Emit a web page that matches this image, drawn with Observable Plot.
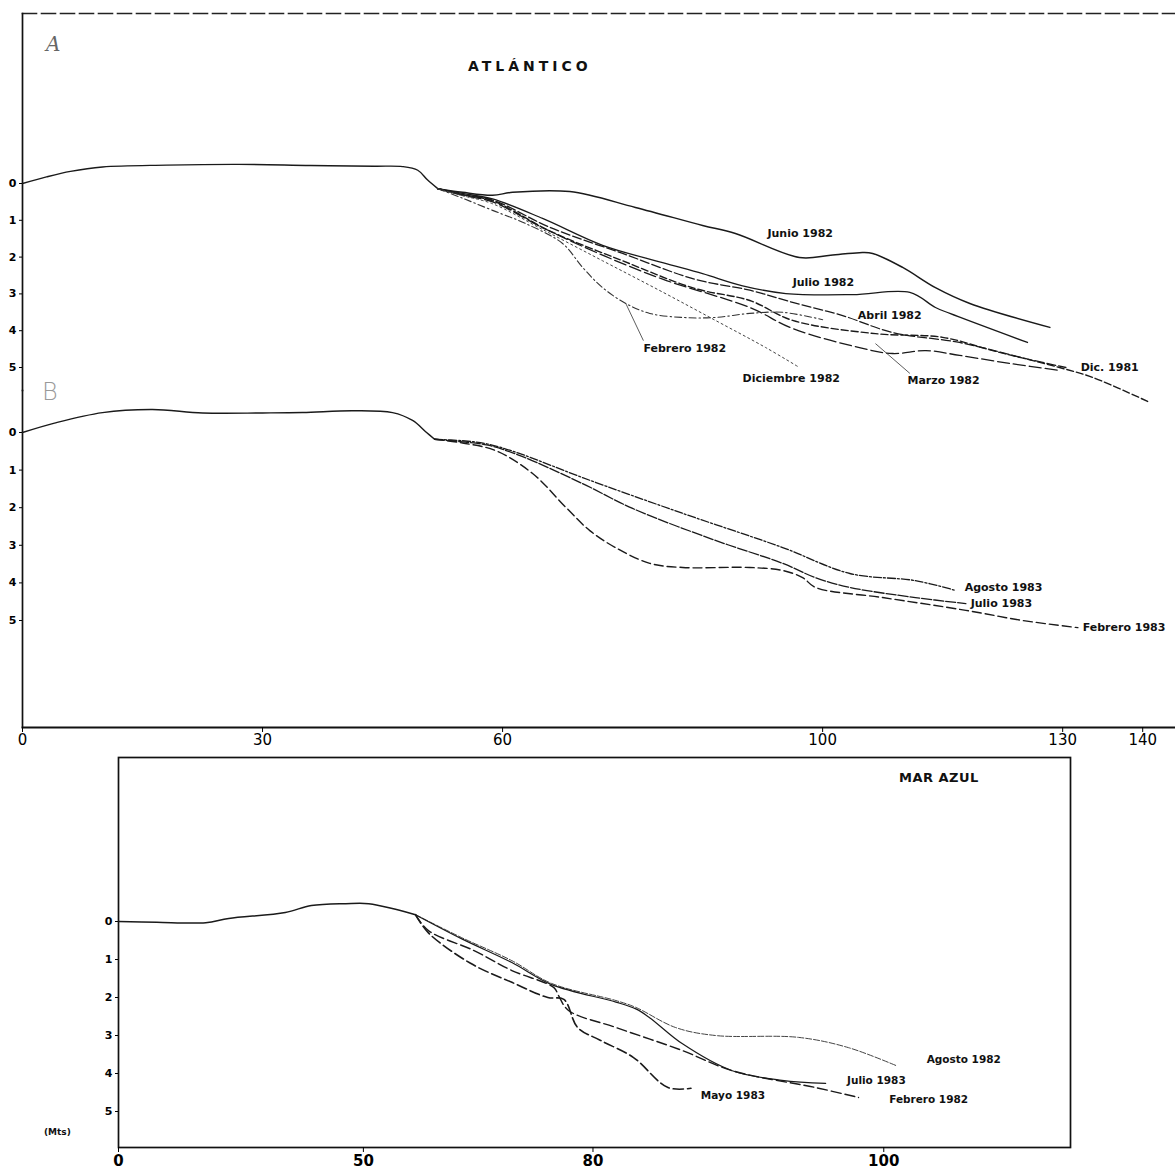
<!DOCTYPE html>
<html><head><meta charset="utf-8">
<script src="https://cdn.jsdelivr.net/npm/d3@7"></script>
<script src="https://cdn.jsdelivr.net/npm/@observablehq/plot@0.6"></script>
<style>
html,body{margin:0;padding:0;background:#fff;}
#wrap{position:relative;width:1175px;height:1175px;background:#fff;overflow:hidden;font-family:"DejaVu Sans",sans-serif;}
#wrap svg{position:absolute;left:0;overflow:visible;}
.note{position:absolute;color:#111;white-space:nowrap;line-height:1;}
</style></head><body><div id="wrap"></div>
<script>
// ================= DATA (distance m, depth m; negative = above datum) =================
const yTicks = [0, 1, 2, 3, 4, 5];
const xTicksTop = [0, 30, 60, 100, 130, 140];
const xTicksMar = [0, 32, 62, 100];
const xTickLabelsMar = ["0", "50", "80", "100"];

// ---- Panel A: ATLÁNTICO ----
const commonA = [[0,0],[3,-0.18],[6,-0.33],[10,-0.45],[18,-0.5],[27,-0.52],[36,-0.49],[44,-0.47],[47.5,-0.46],[49.4,-0.36],[50.6,-0.1],[51.9,0.14]];
const junio1982A = [[51.9,0.14],[55,0.24],[58.75,0.32],[61.25,0.24],[68.4,0.22],[76.6,0.65],[85,1.14],[89.1,1.36],[97.1,2.01],[101,1.95],[104.6,1.88],[106.25,1.9],[110,2.28],[114.1,2.83],[118.4,3.26],[128.4,3.91]];
const julio1982A = [[51.9,0.14],[55,0.27],[58.75,0.42],[65,0.95],[72.5,1.68],[80,2.15],[85,2.45],[90,2.78],[95.4,2.99],[103.75,3.02],[110.9,2.96],[114.1,3.37],[115.9,3.53],[125.6,4.32]];
const abril1982A = [[51.9,0.14],[55,0.3],[58.75,0.45],[66,1.2],[75,1.9],[84,2.6],[90.9,2.9],[96.25,3.23],[102.5,3.59],[108.75,4.05],[117.1,4.32],[125.4,4.76],[130.4,5.0]];
const dic1981A = [[51.9,0.14],[55,0.3],[58.75,0.47],[66,1.3],[75,2.1],[84,2.85],[90.9,3.18],[96.25,3.72],[106.6,4.08],[115,4.18],[121.25,4.54],[129.6,5.0],[133.75,5.27],[140.9,5.95]];
const marzo1982A = [[51.9,0.14],[55,0.32],[58.75,0.5],[65,1.2],[72,1.9],[80,2.6],[90.9,3.37],[96.25,3.94],[104.6,4.46],[108.75,4.62],[112.9,4.54],[117.1,4.67],[123.4,4.89],[129.6,5.08]];
const diciembre1982A = [[51.9,0.14],[55,0.33],[58.75,0.55],[65,1.25],[72.5,2.1],[80,2.95],[86.6,3.72],[92.9,4.46],[97.1,5.0]];
const febrero1982A = [[51.9,0.14],[55,0.4],[58.75,0.73],[62.9,1.09],[67.5,1.63],[70,2.28],[72.5,2.83],[75.4,3.26],[78.4,3.53],[82.5,3.64],[86.6,3.64],[90.9,3.53],[95,3.5],[100,3.7]];
const namesA = ["Junio 1982","Julio 1982","Abril 1982","Dic. 1981","Marzo 1982","Diciembre 1982","Febrero 1982"];
const labelXA = [93.1, 96.25, 104.4, 132.25, 110.6, 90, 77.6];
const labelYA = [1.36, 2.69, 3.59, 5.0, 5.35, 5.3, 4.48];
const leaderA = [
  {x1:75.4, y1:3.26, x2:77.6, y2:4.27},
  {x1:106.6, y1:4.35, x2:110.9, y2:5.16}
];

// ---- Panel B ----
const commonB = [[0,0],[4,-0.25],[10,-0.53],[16.25,-0.61],[22.5,-0.52],[30,-0.52],[35,-0.53],[41.25,-0.58],[46.25,-0.53],[48.75,-0.32],[50.5,0.0],[51.5,0.18]];
const agosto1983B = [[51.5,0.18],[55,0.22],[58,0.3],[62,0.55],[70,1.2],[82.5,2.15],[95,3.06],[103.4,3.75],[111.6,3.94],[116.6,4.2]];
const julio1983B = [[51.5,0.18],[55,0.25],[58,0.33],[62,0.6],[70,1.36],[76.25,2.02],[86.6,2.87],[95,3.48],[99.1,3.86],[103.4,4.12],[111.6,4.39],[117.9,4.55]];
const febrero1983B = [[51.5,0.18],[55,0.28],[59.1,0.48],[63.75,1.09],[67.9,1.99],[70.9,2.61],[74.1,3.06],[78.4,3.48],[82.5,3.59],[90.9,3.59],[95,3.67],[97.5,3.86],[99.1,4.12],[107.5,4.39],[117.9,4.73],[125,5.0],[131.9,5.19]];
const namesB = ["Agosto 1983","Julio 1983","Febrero 1983"];
const labelXB = [117.75, 118.5, 132.5];
const labelYB = [4.12, 4.55, 5.19];

// ---- MAR AZUL ----
const commonM = [[0,0],[5,0.02],[11.4,0.03],[14.4,-0.08],[21.8,-0.24],[25.2,-0.42],[29.7,-0.47],[32.7,-0.47],[36.2,-0.32],[38.8,-0.18]];
const agosto1982M = [[38.8,-0.18],[44.8,0.42],[51.4,1.03],[56.6,1.63],[65,2.08],[67.6,2.26],[72.8,2.79],[78,3.0],[88.9,3.05],[95.4,3.32],[101.6,3.79]];
const julio1983M = [[38.8,-0.18],[44.8,0.45],[51.4,1.08],[56.6,1.66],[65,2.12],[67.6,2.3],[69.4,2.53],[73.7,3.22],[80.1,3.92],[86.7,4.18],[92.4,4.26]];
const febrero1982M = [[38.8,-0.18],[40.5,0.24],[46.4,0.76],[51.4,1.29],[56.9,1.74],[57.5,1.95],[58.8,2.34],[65,2.79],[73.6,3.39],[80.1,3.92],[91.1,4.37],[96.7,4.63]];
const mayo1983M = [[38.8,-0.18],[40.5,0.3],[46,1.1],[51.4,1.6],[56.1,2.0],[58.2,2.05],[60,2.79],[63,3.13],[67.3,3.58],[71.8,4.37],[74.8,4.39]];
const namesM = ["Agosto 1982","Julio 1983","Febrero 1982","Mayo 1983"];
const labelXM = [105.6, 95.2, 100.7, 76.1];
const labelYM = [3.63, 4.18, 4.68, 4.58];

// ================= STYLES =================
const styleA = [
  {w:1.5, dash:null, c:"#1a1a1a"},
  {w:1.3, dash:null, c:"#1a1a1a"},
  {w:1.3, dash:"9,3", c:"#1a1a1a"},
  {w:1.4, dash:"7,3", c:"#1a1a1a"},
  {w:1.3, dash:"12,4", c:"#1a1a1a"},
  {w:1.0, dash:"2,3", c:"#444"},
  {w:1.1, dash:"7,3,1.5,3", c:"#333"}
];
const styleB = [
  {w:1.3, dash:"8,2,2,2", c:"#1a1a1a"},
  {w:1.3, dash:"10,2", c:"#1a1a1a"},
  {w:1.4, dash:"9,4", c:"#1a1a1a"}
];
const styleM = [
  {w:1.0, dash:"6,2", c:"#444"},
  {w:1.2, dash:null, c:"#1a1a1a"},
  {w:1.4, dash:"10,4", c:"#1a1a1a"},
  {w:1.6, dash:"10,4", c:"#1a1a1a"}
];

// ================= BUILD =================
const rows = (arr) => arr.map(([x, y]) => ({x, y}));
const seriesA = [junio1982A, julio1982A, abril1982A, dic1981A, marzo1982A, diciembre1982A, febrero1982A];
const seriesB = [agosto1983B, julio1983B, febrero1983B];
const seriesM = [agosto1982M, julio1983M, febrero1982M, mayo1983M];
const labels = (names, xs, ys) => names.map((t, i) => ({t, x: xs[i], y: ys[i]}));

function lineMarks(series, styles) {
  return series.map((s, i) => Plot.line(rows(s), {
    x: "x", y: "y", curve: "catmull-rom",
    stroke: styles[i].c, strokeWidth: styles[i].w,
    strokeDasharray: styles[i].dash || undefined
  }));
}
const textOpts = {x: "x", y: "y", text: "t", textAnchor: "start", fontSize: 11, fontWeight: "bold", fill: "#111"};
const W = 1175;
const wrap = document.getElementById("wrap");

// Panel A
const plotA = Plot.plot({
  width: W, height: 390,
  marginLeft: 22, marginRight: 0, marginTop: 13, marginBottom: 0,
  x: {domain: [0, 144.1], axis: null},
  y: {domain: [-4.62, 5.625], reverse: true},
  style: {fontFamily: "DejaVu Sans", background: "transparent"},
  marks: [
    Plot.frame({anchor: "top", strokeDasharray: "14,5", strokeWidth: 1.6, stroke: "#222"}),
    Plot.frame({anchor: "left", strokeWidth: 1.7, stroke: "#111"}),
    Plot.axisY(yTicks, {tickSize: 3, tickPadding: 3, fontSize: 11, fontWeight: "bold", label: null}),
    Plot.line(rows(commonA), {x: "x", y: "y", curve: "catmull-rom", stroke: "#1a1a1a", strokeWidth: 1.4}),
    ...lineMarks(seriesA, styleA),
    Plot.link(leaderA, {x1: "x1", y1: "y1", x2: "x2", y2: "y2", stroke: "#333", strokeWidth: 0.8}),
    Plot.text(labels(namesA, labelXA, labelYA), textOpts)
  ]
});
plotA.style.top = "0px";
wrap.appendChild(plotA);

// Panel B
const plotB = Plot.plot({
  width: W, height: 370,
  marginLeft: 22, marginRight: 0, marginTop: 0, marginBottom: 33,
  x: {domain: [0, 144.1]},
  y: {domain: [-1.117, 7.846], reverse: true},
  style: {fontFamily: "DejaVu Sans", background: "transparent"},
  marks: [
    Plot.frame({anchor: "left", strokeWidth: 1.7, stroke: "#111"}),
    Plot.frame({anchor: "bottom", strokeWidth: 1.8, stroke: "#111"}),
    Plot.axisY(yTicks, {tickSize: 3, tickPadding: 3, fontSize: 11, fontWeight: "bold", label: null}),
    Plot.axisX(xTicksTop, {tickSize: 5, tickPadding: 2, fontSize: 15, label: null}),
    Plot.line(rows(commonB), {x: "x", y: "y", curve: "catmull-rom", stroke: "#1a1a1a", strokeWidth: 1.4}),
    ...lineMarks(seriesB, styleB),
    Plot.text(labels(namesB, labelXB, labelYB), textOpts)
  ]
});
plotB.style.top = "390px";
wrap.appendChild(plotB);

// MAR AZUL
const plotM = Plot.plot({
  width: W, height: 430,
  marginLeft: 118, marginRight: 105, marginTop: 12, marginBottom: 28,
  x: {domain: [0, 124.4]},
  y: {domain: [-4.316, 5.947], reverse: true},
  style: {fontFamily: "DejaVu Sans", background: "transparent"},
  marks: [
    Plot.frame({strokeWidth: 1.7, stroke: "#111"}),
    Plot.axisY(yTicks, {tickSize: 3, tickPadding: 3, fontSize: 11, fontWeight: "bold", label: null}),
    Plot.axisX(xTicksMar, {tickSize: 5, tickPadding: 3, fontSize: 15, fontWeight: "bold", label: null,
      tickFormat: (d, i) => xTickLabelsMar[xTicksMar.indexOf(d)]}),
    Plot.line(rows(commonM), {x: "x", y: "y", curve: "catmull-rom", stroke: "#1a1a1a", strokeWidth: 1.5}),
    ...lineMarks(seriesM, styleM),
    Plot.text(labels(namesM, labelXM, labelYM), {...textOpts, fontSize: 10.5})
  ]
});
plotM.style.top = "745px";
wrap.appendChild(plotM);

// Titles / panel letters
function note(text, css) {
  const d = document.createElement("div");
  d.className = "note"; d.textContent = text; Object.assign(d.style, css); wrap.appendChild(d);
}
note("A", {left: "46px", top: "34px", fontSize: "20px", fontStyle: "italic", fontFamily: "DejaVu Serif", color: "#666"});
note("ATLÁNTICO", {left: "468px", top: "59px", fontSize: "14px", fontWeight: "bold", letterSpacing: "4px"});
note("B", {left: "42px", top: "380px", fontSize: "24px", color: "#999", fontWeight: "300"});
note("MAR AZUL", {left: "899px", top: "771px", fontSize: "13px", fontWeight: "bold", letterSpacing: "0.5px"});
note("(Mts)", {left: "44px", top: "1128px", fontSize: "9px", fontWeight: "bold"});
</script></body></html>
